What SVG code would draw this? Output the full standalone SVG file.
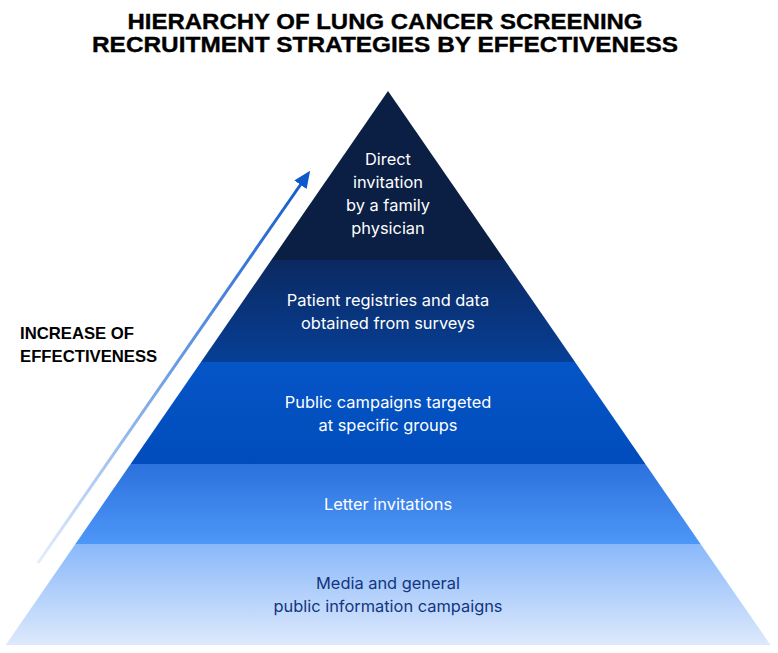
<svg xmlns="http://www.w3.org/2000/svg" width="778" height="653" viewBox="0 0 778 653">
  <style>
    .title { font-family: "Liberation Sans", Arial, sans-serif; font-weight: 700; font-size: 22px; fill: #000; stroke: #000; stroke-width: 0.35; text-anchor: middle; }
    .side { font-family: "Liberation Sans", Arial, sans-serif; font-weight: 700; font-size: 16.7px; fill: #000; }
    .lbl { font-family: Inter, "Noto Sans", sans-serif; font-size: 16.4px; fill: #ffffff; text-anchor: middle; }
    .lbl-dark { fill: #12357f; }
  </style>
  <defs>
    <linearGradient id="g2" x1="0" y1="0" x2="0" y2="1">
      <stop offset="0" stop-color="#0b2961"/>
      <stop offset="1" stop-color="#073f96"/>
    </linearGradient>
    <linearGradient id="g3" x1="0" y1="0" x2="0" y2="1">
      <stop offset="0" stop-color="#0655c6"/>
      <stop offset="1" stop-color="#004cbc"/>
    </linearGradient>
    <linearGradient id="g4" x1="0" y1="0" x2="0" y2="1">
      <stop offset="0" stop-color="#2c71dd"/>
      <stop offset="1" stop-color="#4d97f8"/>
    </linearGradient>
    <linearGradient id="g5" x1="0" y1="0" x2="0" y2="1">
      <stop offset="0" stop-color="#89b8fa"/>
      <stop offset="1" stop-color="#dde9fc"/>
    </linearGradient>
    <linearGradient id="ga" gradientUnits="userSpaceOnUse" x1="38" y1="563" x2="301" y2="184">
      <stop offset="0" stop-color="#e4eefc"/>
      <stop offset="0.5" stop-color="#6d9fe6"/>
      <stop offset="1" stop-color="#145ccc"/>
    </linearGradient>
    <marker id="head" markerUnits="userSpaceOnUse" markerWidth="20" markerHeight="16" refX="1" refY="7.5" orient="auto">
      <path d="M0,0 L17,7.5 L0,15 Z" fill="#0d58cc"/>
    </marker>
  </defs>

  <rect width="778" height="653" fill="#ffffff"/>

  <g id="title">
    <text class="title" x="385" y="28.5" textLength="515" lengthAdjust="spacingAndGlyphs">HIERARCHY OF LUNG CANCER SCREENING</text>
    <text class="title" x="385" y="51.5" textLength="586" lengthAdjust="spacingAndGlyphs">RECRUITMENT STRATEGIES BY EFFECTIVENESS</text>
  </g>

  <g id="level1">
    <polygon points="388,91 504.6,260 271.4,260" fill="#0b1e44"/>
    <text class="lbl" x="388" y="165">Direct</text>
    <text class="lbl" x="388" y="188">invitation</text>
    <text class="lbl" x="388" y="211">by a family</text>
    <text class="lbl" x="388" y="234">physician</text>
  </g>

  <g id="level2">
    <polygon points="271.4,260 504.6,260 575,362 201,362" fill="url(#g2)"/>
    <text class="lbl" x="388" y="306">Patient registries and data</text>
    <text class="lbl" x="388" y="329">obtained from surveys</text>
  </g>

  <g id="level3">
    <polygon points="201,362 575,362 645.4,464 130.6,464" fill="url(#g3)"/>
    <text class="lbl" x="388" y="408">Public campaigns targeted</text>
    <text class="lbl" x="388" y="431">at specific groups</text>
  </g>

  <g id="level4">
    <polygon points="130.6,464 645.4,464 700.6,544 75.4,544" fill="url(#g4)"/>
    <text class="lbl" x="388" y="510">Letter invitations</text>
  </g>

  <g id="level5">
    <polygon points="75.4,544 700.6,544 770.5,645 5.7,645" fill="url(#g5)"/>
    <text class="lbl lbl-dark" x="388" y="589">Media and general</text>
    <text class="lbl lbl-dark" x="388" y="612">public information campaigns</text>
  </g>

  <g id="connectors">
    <line x1="38" y1="563" x2="301" y2="184" stroke="url(#ga)" stroke-width="3" marker-end="url(#head)"/>
  </g>

  <g id="axis-label">
    <text class="side" x="20" y="339">INCREASE OF</text>
    <text class="side" x="20" y="362">EFFECTIVENESS</text>
  </g>
</svg>
